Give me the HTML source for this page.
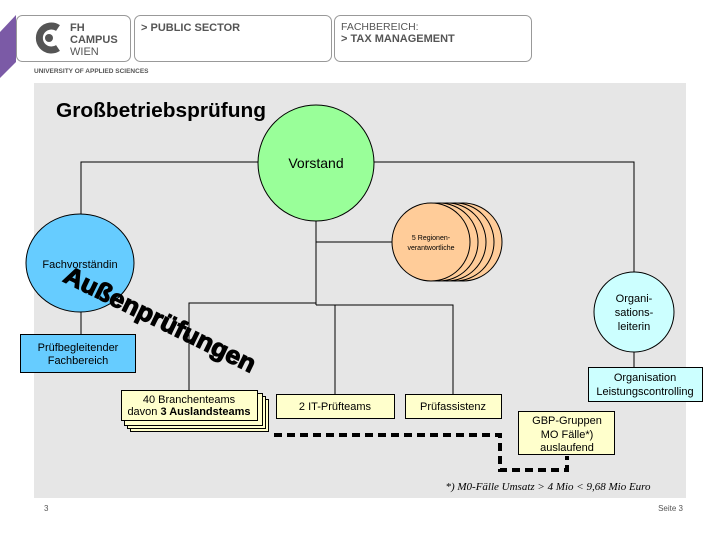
<!DOCTYPE html>
<html><head><meta charset="utf-8"><style>
html,body{margin:0;padding:0;background:#fff;}
svg{display:block;font-family:"Liberation Sans",sans-serif;}
</style></head><body>
<svg width="720" height="540" viewBox="0 0 720 540" xmlns="http://www.w3.org/2000/svg">
<!-- header -->
<polygon points="0,32 16,15 16,62 0,78" fill="#7b5aa6"/>
<rect x="16.5" y="15.5" width="114" height="46" rx="6" fill="#fff" stroke="#999"/>
<rect x="134.5" y="15.5" width="197" height="46" rx="6" fill="#fff" stroke="#999"/>
<rect x="334.5" y="15.5" width="197" height="46" rx="6" fill="#fff" stroke="#999"/>
<path d="M58,28 A12,12 0 1 0 58,48" fill="none" stroke="#555" stroke-width="7"/>
<circle cx="49" cy="38" r="4" fill="#555"/>
<text x="70" y="31" font-size="11" font-weight="bold" fill="#555">FH</text>
<text x="70" y="43" font-size="11" font-weight="bold" fill="#555">CAMPUS</text>
<text x="70" y="55" font-size="11" fill="#555">WIEN</text>
<text x="34" y="73" font-size="6.5" font-weight="bold" fill="#555">UNIVERSITY OF APPLIED SCIENCES</text>
<text x="141" y="31" font-size="11" font-weight="bold" fill="#555">&gt; PUBLIC SECTOR</text>
<text x="341" y="30" font-size="10.5" fill="#555">FACHBEREICH:</text>
<text x="341" y="42" font-size="11" font-weight="bold" fill="#555">&gt; TAX MANAGEMENT</text>
<!-- gray area -->
<rect x="34" y="83" width="652" height="415" fill="#e6e6e6"/>
<text x="56" y="117" font-size="20" font-weight="bold" fill="#000" textLength="210" lengthAdjust="spacingAndGlyphs">Großbetriebsprüfung</text>
<!-- connectors -->
<g stroke="#000" stroke-width="1" fill="none">
<polyline points="81,215 81,162 634,162 634,273"/>
<line x1="316" y1="162" x2="316" y2="305"/>
<line x1="316" y1="242" x2="392" y2="242"/>
<line x1="81" y1="312" x2="81" y2="334"/>
<polyline points="189,390 189,303 316,303"/>
<polyline points="316,305 453,305 453,394"/>
<line x1="335" y1="305" x2="335" y2="394"/>
<line x1="634" y1="352" x2="634" y2="367"/>
</g>
<!-- Vorstand -->
<circle cx="316" cy="163" r="58" fill="#99ff99" stroke="#000"/>
<text x="316" y="168" font-size="14" text-anchor="middle">Vorstand</text>
<!-- Regionen stacked -->
<g fill="#ffcc99" stroke="#000">
<ellipse cx="463" cy="242" rx="39" ry="39"/>
<ellipse cx="455" cy="242" rx="39" ry="39"/>
<ellipse cx="447" cy="242" rx="39" ry="39"/>
<ellipse cx="439" cy="242" rx="39" ry="39"/>
<ellipse cx="431" cy="242" rx="39" ry="39"/>
</g>
<text x="431" y="240" font-size="7" text-anchor="middle">5 Regionen-</text>
<text x="431" y="250" font-size="7" text-anchor="middle">verantwortliche</text>
<!-- Fachvorständin -->
<ellipse cx="80" cy="263" rx="54" ry="49" fill="#66ccff" stroke="#000"/>
<text x="80" y="268" font-size="11" text-anchor="middle">Fachvorständin</text>
<rect x="20.5" y="334.5" width="115" height="38" fill="#66ccff" stroke="#000"/>
<text x="78" y="351" font-size="11" text-anchor="middle">Prüfbegleitender</text>
<text x="78" y="364" font-size="11" text-anchor="middle">Fachbereich</text>
<!-- Organisationsleiterin -->
<circle cx="634" cy="312" r="40" fill="#ccffff" stroke="#000"/>
<text x="634" y="302" font-size="11" text-anchor="middle">Organi-</text>
<text x="634" y="316" font-size="11" text-anchor="middle">sations-</text>
<text x="634" y="330" font-size="11" text-anchor="middle">leiterin</text>
<rect x="588.5" y="367.5" width="114" height="34" fill="#ccffff" stroke="#000"/>
<text x="645" y="381" font-size="11" text-anchor="middle">Organisation</text>
<text x="645" y="395" font-size="11" text-anchor="middle">Leistungscontrolling</text>
<!-- Branchenteams stacked -->
<g fill="#ffffcc" stroke="#000">
<rect x="130.5" y="399.5" width="138" height="32"/>
<rect x="127.5" y="396.5" width="138" height="32"/>
<rect x="124.5" y="393.5" width="138" height="32"/>
<rect x="121.5" y="390.5" width="136" height="30"/>
</g>
<text x="189" y="403" font-size="11" text-anchor="middle">40 Branchenteams</text>
<text x="189" y="415" font-size="11" text-anchor="middle">davon <tspan font-weight="bold">3 Auslandsteams</tspan></text>
<rect x="276.5" y="394.5" width="118" height="24" fill="#ffffcc" stroke="#000"/>
<text x="335" y="410" font-size="11" text-anchor="middle">2 IT-Prüfteams</text>
<rect x="405.5" y="394.5" width="96" height="24" fill="#ffffcc" stroke="#000"/>
<text x="453" y="410" font-size="11" text-anchor="middle">Prüfassistenz</text>
<rect x="518.5" y="411.5" width="96" height="43" fill="#ffffcc" stroke="#000"/>
<text x="567" y="424" font-size="11" text-anchor="middle">GBP-Gruppen</text>
<text x="567" y="438" font-size="11" text-anchor="middle">MO Fälle*)</text>
<text x="567" y="451" font-size="11" text-anchor="middle">auslaufend</text>
<!-- dashed -->
<polyline points="274,435 500,435 500,470 567,470 567,456" fill="none" stroke="#000" stroke-width="4" stroke-dasharray="8,5"/>
<text x="548" y="490" font-size="11" font-style="italic" font-family="Liberation Serif,serif" text-anchor="middle">*) M0-Fälle Umsatz &gt; 4 Mio &lt; 9,68 Mio Euro</text>
<!-- Außenprüfungen -->
<text transform="translate(62,281) rotate(26)" font-size="25" font-weight="900" fill="#000" stroke="#000" stroke-width="1.2" textLength="210" lengthAdjust="spacingAndGlyphs">Außenprüfungen</text>
<!-- footer -->
<text x="44" y="511" font-size="8" fill="#555">3</text>
<text x="683" y="511" font-size="8" fill="#555" text-anchor="end">Seite 3</text>
</svg>
</body></html>
